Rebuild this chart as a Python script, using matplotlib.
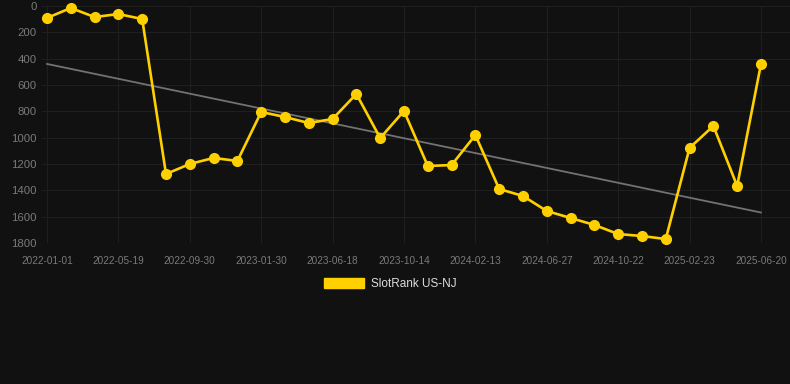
#!/usr/bin/env python3
"""plot.py - SlotRank US-NJ rank history (dark theme), saved to out.png."""
import numpy as np
import matplotlib
matplotlib.use("Agg")
import matplotlib.pyplot as plt
from matplotlib.patches import Patch

# rank per sample (lower = better), one sample per step on the x axis
rank = [91, 15, 84, 61, 99, 1276, 1200, 1154, 1177, 805, 843, 889, 858, 668,
        1003, 797, 1215, 1208, 980, 1390, 1443, 1557, 1610, 1663, 1732, 1747,
        1770, 1078, 911, 1367, 441]
# labels shown on every third sample
tick_dates = ["2022-01-01", "2022-05-19", "2022-09-30", "2023-01-30", "2023-06-18",
              "2023-10-14", "2024-02-13", "2024-06-27", "2024-10-22", "2025-02-23",
              "2025-06-20"]
series_name = "SlotRank US-NJ"

BG = "#111111"
YELLOW = "#FFD000"
TICK = "#7a7a7a"
GRID = "#1f1f1f"

plt.rcParams["font.family"] = ["Liberation Sans", "DejaVu Sans"]

x = np.arange(len(rank))
y = np.array(rank, dtype=float)
k, b = np.polyfit(x, y, 1)
trend = k * x + b

fig = plt.figure(figsize=(7.9, 3.84), dpi=100, facecolor=BG)
ax = fig.add_axes([42 / 790, 1 - 243 / 384, 1 - 42 / 790, 237 / 384])
ax.set_facecolor(BG)

ax.plot(x, trend, color="#727272", lw=1.3, zorder=2)
ax.plot(x, y, color=YELLOW, lw=1.9, marker="o", ms=7, zorder=3, clip_on=False)

ax.set_ylim(1800, 0)
ax.set_yticks(range(0, 1801, 200))
ax.set_xlim(-0.21, 31.22)
ax.set_xticks(x[::3])
ax.set_xticklabels(tick_dates)

ax.grid(True, color=GRID, lw=0.8)
ax.set_axisbelow(True)
for s in ax.spines.values():
    s.set_visible(False)
ax.tick_params(axis="y", length=0, pad=4, labelsize=8.2, labelcolor=TICK)
ax.tick_params(axis="x", length=0, pad=9, labelsize=7.2, labelcolor=TICK)

handle = Patch(facecolor=YELLOW, edgecolor=YELLOW)
leg = fig.legend([handle], [series_name], loc="center", bbox_to_anchor=(390 / 790, 1 - 284 / 384),
                 frameon=False, fontsize=8.5, handlelength=3.4, handleheight=1.0,
                 handletextpad=0.6, labelcolor="#dddddd")

fig.savefig("out.png", dpi=100, facecolor=BG)
